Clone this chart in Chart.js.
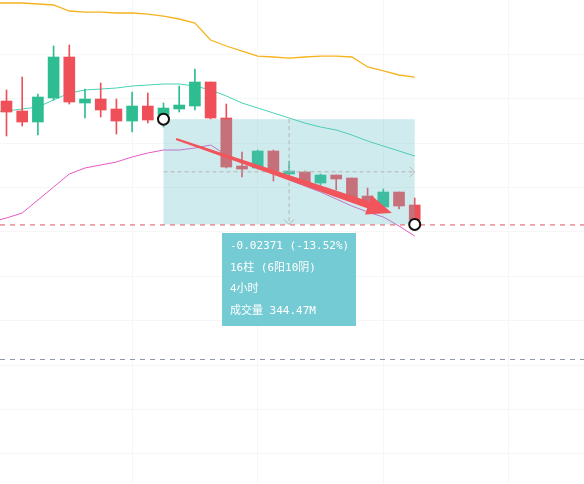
<!DOCTYPE html>
<html>
<head>
<meta charset="utf-8">
<script src="https://cdn.jsdelivr.net/npm/chart.js@4"></script>
<style>
  html, body { margin: 0; padding: 0; background: #fff; }
  #wrap { width: 584px; height: 484px; }
</style>
</head>
<body>
<div id="wrap"><canvas id="myChart" width="584" height="484"></canvas></div>
<script>
console.log("chart script initializing.");

// candles, index 0..26
const candleOpen  = [0.17946, 0.17721, 0.17473, 0.18014, 0.18937, 0.17901, 0.17991, 0.17766, 0.17495, 0.17833,
                     0.17631, 0.17766, 0.17833, 0.18374, 0.17563, 0.16482, 0.16437, 0.16820, 0.16302, 0.16347,
                     0.16099, 0.16279, 0.16212, 0.15806, 0.15559, 0.15896, 0.15604];
const candleHigh  = [0.18194, 0.18486, 0.18104, 0.19185, 0.19207, 0.18216, 0.18351, 0.17991, 0.18149, 0.18126,
                     0.17901, 0.18284, 0.18667, 0.18374, 0.17878, 0.16797, 0.16842, 0.16842, 0.16595, 0.16369,
                     0.16302, 0.16279, 0.16212, 0.15986, 0.15964, 0.15896, 0.15761];
const candleLow   = [0.17158, 0.17383, 0.17180, 0.17968, 0.17878, 0.17563, 0.17586, 0.17203, 0.17248, 0.17450,
                     0.17360, 0.17698, 0.17743, 0.17541, 0.16437, 0.16234, 0.16414, 0.16144, 0.16257, 0.16077,
                     0.16054, 0.15941, 0.15716, 0.15649, 0.15536, 0.15514, 0.15176];
const candleClose = [0.17698, 0.17473, 0.18036, 0.18937, 0.17923, 0.17991, 0.17743, 0.17495, 0.17833, 0.17518,
                     0.17788, 0.17856, 0.18374, 0.17563, 0.16459, 0.16414, 0.16820, 0.16347, 0.16369, 0.16099,
                     0.16279, 0.16189, 0.15739, 0.15694, 0.15896, 0.15581, 0.15266];

// bollinger bands, index -1..26
const bandFirstIndex = -1;
const bandUpper  = [0.20153, 0.20153, 0.20153, 0.20131, 0.20108, 0.19973, 0.19950, 0.19950, 0.19928, 0.19928,
                    0.19905, 0.19860, 0.19793, 0.19703, 0.19320, 0.19185, 0.19072, 0.18959, 0.18937, 0.18914,
                    0.18937, 0.18959, 0.18959, 0.18937, 0.18712, 0.18622, 0.18532, 0.18486];
const bandMiddle = [0.17698, 0.17721, 0.17766, 0.17811, 0.17968, 0.18126, 0.18194, 0.18216, 0.18239, 0.18284,
                    0.18306, 0.18329, 0.18329, 0.18284, 0.18194, 0.18059, 0.17901, 0.17788, 0.17676, 0.17563,
                    0.17450, 0.17360, 0.17293, 0.17180, 0.17045, 0.16932, 0.16820, 0.16707];
const bandLower  = [0.15221, 0.15311, 0.15423, 0.15716, 0.16009, 0.16302, 0.16437, 0.16505, 0.16572, 0.16685,
                    0.16775, 0.16842, 0.16842, 0.16887, 0.16955, 0.16730, 0.16572, 0.16459, 0.16324, 0.16167,
                    0.16032, 0.15896, 0.15739, 0.15581, 0.15446, 0.15333, 0.15131, 0.14905];

// visible window and grid
const xRange = [-0.414, 36.783];
const yRange = [0.09320, 0.20221];
const gridStepBars = 8;
const gridStepPrice = 0.01;

// drawings
const measureFrom = [10, 0.17537];
const measureTo = [26, 0.15166];
const arrowFrom = [10.8, 0.17090];
const arrowTo = [24.55, 0.15423];
const grayLinePrice = 0.12135;
const infoLines = ["-0.02371 (-13.52%)", "16柱 (6阳10阴)", "4小时", "成交量 344.47M"];

const upColor = '#2ebd91';
const downColor = '#ef4f59';

const bodies = candleOpen.map((o, i) => ({ x: i, y: [o, candleClose[i]] }));
const wicks = candleOpen.map((o, i) => ({ x: i, y: [candleLow[i], candleHigh[i]] }));
const colors = candleOpen.map((o, i) => candleClose[i] >= o ? upColor : downColor);
const band = arr => arr.map((v, i) => ({ x: i + bandFirstIndex, y: v }));

function onStep(step) {
  return scale => {
    scale.ticks = scale.ticks.filter(t => Math.abs(t.value / step - Math.round(t.value / step)) < 1e-6);
  };
}

function dashLine(ctx, x1, y1, x2, y2, color, dash) {
  ctx.save();
  ctx.strokeStyle = color;
  ctx.lineWidth = 1;
  ctx.setLineDash(dash);
  ctx.beginPath();
  ctx.moveTo(x1, y1);
  ctx.lineTo(x2, y2);
  ctx.stroke();
  ctx.restore();
}

const drawings = {
  id: 'drawings',
  afterDatasetsDraw(chart) {
    const ctx = chart.ctx;
    const xs = chart.scales.x, ys = chart.scales.y;
    const x1 = xs.getPixelForValue(measureFrom[0]), y1 = ys.getPixelForValue(measureFrom[1]);
    const x2 = xs.getPixelForValue(measureTo[0]), y2 = ys.getPixelForValue(measureTo[1]);
    const mx = (x1 + x2) / 2, my = (y1 + y2) / 2;

    // measure box
    ctx.save();
    ctx.fillStyle = 'rgba(100,190,200,0.3)';
    ctx.fillRect(x1, y1, x2 - x1, y2 - y1);
    ctx.restore();

    dashLine(ctx, x1, my, x2, my, '#b4b4b4', [4, 3]);
    dashLine(ctx, mx, y1, mx, y2, '#b4b4b4', [4, 3]);
    ctx.save();
    ctx.strokeStyle = '#b4b4b4';
    ctx.lineWidth = 1;
    ctx.beginPath();
    ctx.moveTo(x2 - 5, my - 5); ctx.lineTo(x2, my); ctx.lineTo(x2 - 5, my + 5);
    ctx.moveTo(mx - 5, y2 - 5); ctx.lineTo(mx, y2); ctx.lineTo(mx + 5, y2 - 5);
    ctx.stroke();
    ctx.restore();

    // price lines
    dashLine(ctx, 0, y2 + 0.5, chart.width, y2 + 0.5, '#e0505e', [5, 5]);
    const gy = Math.round(ys.getPixelForValue(grayLinePrice)) + 0.5;
    dashLine(ctx, 0, gy, chart.width, gy, '#8c96a8', [5, 5]);

    // trend arrow
    const ax = xs.getPixelForValue(arrowFrom[0]), ay = ys.getPixelForValue(arrowFrom[1]);
    const bx = xs.getPixelForValue(arrowTo[0]), by = ys.getPixelForValue(arrowTo[1]);
    const len = Math.hypot(bx - ax, by - ay);
    const ux = (bx - ax) / len, uy = (by - ay) / len;
    const px = -uy, py = ux;
    const head = 25, hw = 10;
    const cx = bx - ux * head, cy = by - uy * head;
    ctx.save();
    ctx.fillStyle = '#f2545b';
    ctx.beginPath();
    ctx.moveTo(ax + px * 1, ay + py * 1);
    ctx.lineTo(cx + px * 3.5, cy + py * 3.5);
    ctx.lineTo(cx + px * hw, cy + py * hw);
    ctx.lineTo(bx, by);
    ctx.lineTo(cx - px * hw, cy - py * hw);
    ctx.lineTo(cx - px * 3.5, cy - py * 3.5);
    ctx.lineTo(ax - px * 1, ay - py * 1);
    ctx.closePath();
    ctx.fill();
    ctx.restore();

    // anchor circles
    ctx.save();
    ctx.lineWidth = 2;
    ctx.strokeStyle = '#111';
    ctx.fillStyle = '#fff';
    [[x1, y1], [x2, y2]].forEach(p => {
      ctx.beginPath();
      ctx.arc(p[0], p[1], 5.5, 0, Math.PI * 2);
      ctx.fill();
      ctx.stroke();
    });
    ctx.restore();

    // info label
    const bw = 134, bh = 93;
    const bxl = Math.round(mx - bw / 2), byt = Math.round(y2 + 9);
    ctx.save();
    ctx.fillStyle = '#74cbd4';
    ctx.fillRect(bxl, byt, bw, bh);
    ctx.fillStyle = '#fff';
    ctx.font = "11px 'DejaVu Sans Mono', 'Noto Sans CJK SC', monospace";
    ctx.textBaseline = 'middle';
    infoLines.forEach((t, i) => ctx.fillText(t, bxl + 8, byt + 13 + i * 21.8));
    ctx.restore();
  }
};

const ctx = document.getElementById('myChart').getContext('2d');
const myChart = new Chart(ctx, {
  type: 'bar',
  data: {
    datasets: [
      { type: 'bar', data: bodies, backgroundColor: colors, barThickness: 11, grouped: false, borderWidth: 0, order: 0 },
      { type: 'bar', data: wicks, backgroundColor: colors, barThickness: 1, grouped: false, borderWidth: 0, order: 1 },
      { type: 'line', data: band(bandUpper), borderColor: '#f6b31e', borderWidth: 1.3, pointRadius: 0, tension: 0, order: 2 },
      { type: 'line', data: band(bandMiddle), borderColor: '#46d2b4', borderWidth: 1, pointRadius: 0, tension: 0, order: 2 },
      { type: 'line', data: band(bandLower), borderColor: '#e55bc6', borderWidth: 1, pointRadius: 0, tension: 0, order: 2 }
    ]
  },
  options: {
    responsive: false,
    animation: false,
    layout: { padding: 0 },
    plugins: { legend: { display: false }, tooltip: { enabled: false } },
    scales: {
      x: {
        type: 'linear', min: xRange[0], max: xRange[1], offset: false,
        ticks: { display: false, stepSize: gridStepBars },
        afterBuildTicks: onStep(gridStepBars),
        grid: { color: '#f6f6f6', drawTicks: false, offset: false },
        border: { display: false }
      },
      y: {
        type: 'linear', min: yRange[0], max: yRange[1],
        ticks: { display: false, stepSize: gridStepPrice },
        afterBuildTicks: onStep(gridStepPrice),
        grid: { color: '#f6f6f6', drawTicks: false },
        border: { display: false }
      }
    }
  },
  plugins: [drawings]
});

console.log("chart script loaded.");
</script>
</body>
</html>
